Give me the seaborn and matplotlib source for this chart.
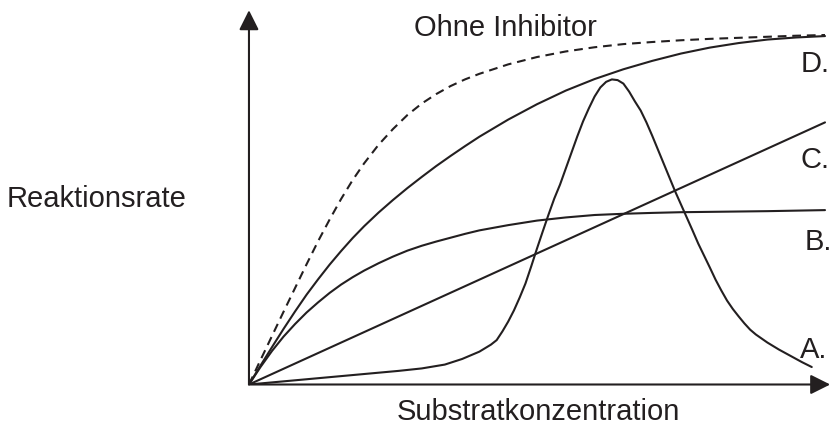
import matplotlib
matplotlib.use("Agg")
import matplotlib.pyplot as plt
import seaborn as sns

# substrate concentration (arbitrary units, 0..100)
x_grid = [0, 2, 4, 6, 8, 10, 12, 14, 16, 18, 20, 22.5, 25, 27.5, 30, 32.5, 35,
          37.5, 40, 45, 50, 55, 60, 65, 70, 75, 80, 85, 90, 95, 100]

# reaction rates (arbitrary units, 0..100)
ohne_inhibitor = [0, 7.0, 13.9, 20.8, 27.6, 34.4, 41.0, 47.2, 53.1, 58.5, 63.3,
                  68.6, 73.1, 77.1, 80.4, 83.1, 85.4, 87.3, 88.9, 91.6, 93.7,
                  95.3, 96.5, 97.4, 98.0, 98.5, 98.9, 99.2, 99.5, 99.8, 100.0]
kurve_d = [0, 5.4, 10.7, 15.9, 20.9, 25.7, 30.1, 34.3, 38.2, 41.9, 45.3,
           49.2, 52.8, 56.2, 59.4, 62.5, 65.4, 68.2, 70.9, 75.8, 80.2,
           84.1, 87.4, 90.2, 92.6, 94.7, 96.4, 97.7, 98.7, 99.3, 99.7]
kurve_b = [0, 5.0, 9.6, 13.7, 17.3, 20.6, 23.5, 26.2, 28.6, 30.7, 32.6,
           34.7, 36.6, 38.3, 39.7, 40.9, 42.0, 43.1, 44.1, 45.6, 46.9,
           47.8, 48.5, 48.85, 49.1, 49.3, 49.4, 49.5, 49.6, 49.75, 49.9]

x_c = [0, 100]
kurve_c = [0, 75.0]

x_a = [0, 10, 20, 26, 30, 34, 37, 40, 42, 43, 44, 45, 46, 47, 48, 49, 50,
       51, 52, 53, 54, 55, 56, 57, 58, 59, 60, 61, 62, 63, 64, 65, 66, 67,
       68, 69, 70, 71, 72, 73, 74, 75, 76, 77, 78, 79, 80, 81, 82, 83, 84,
       85, 86, 87, 88, 90, 92, 94, 96, 97.7]
kurve_a = [0, 1.5, 3.0, 3.9, 4.6, 5.7, 7.3, 9.4, 11.4, 12.7, 15.2, 18.0, 21.2,
           24.9, 28.9, 33.8, 38.9, 43.8, 48.6, 53.2, 57.2, 61.8, 66.4, 71.0,
           75.3, 79.0, 82.4, 85.0, 86.6, 87.3, 87.1, 86.1, 83.8, 81.0, 78.4,
           75.0, 71.2, 67.2, 63.2, 59.2, 55.2, 51.5, 47.8, 44.1, 40.3, 36.9,
           33.5, 30.0, 26.9, 24.0, 21.6, 19.5, 17.5, 15.7, 14.3, 12.0, 10.0,
           8.2, 6.4, 5.0]

kurven_labels = ["D.", "C.", "B.", "A."]
kurven_label_pos = [(95.7, 89.4), (95.7, 61.9), (96.5, 38.5), (95.7, 7.6)]

ink = "#231f20"

sns.set_theme(style="white")
plt.rcParams["font.family"] = ["Liberation Sans", "DejaVu Sans"]

fig = plt.figure(figsize=(8.31, 4.25), dpi=100)
ax = fig.add_axes([0.2996, 0.0953, 0.7015, 0.8815])

sns.lineplot(x=x_grid, y=ohne_inhibitor, ax=ax, color=ink, lw=1.5,
             linestyle=(0, (4.2, 2.8)))
sns.lineplot(x=x_grid, y=kurve_d, ax=ax, color=ink, lw=1.5)
sns.lineplot(x=x_c, y=kurve_c, ax=ax, color=ink, lw=1.5)
sns.lineplot(x=x_grid, y=kurve_b, ax=ax, color=ink, lw=1.5)
sns.lineplot(x=x_a, y=kurve_a, ax=ax, color=ink, lw=1.5)

ax.set_xlim(0, 101.2)
ax.set_ylim(0, 107.2)
for s in ax.spines.values():
    s.set_visible(False)
ax.set_xticks([])
ax.set_yticks([])
ax.patch.set_alpha(0)

# axes with arrow heads
arrow = dict(arrowstyle="-|>,head_length=0.6,head_width=0.3", mutation_scale=20,
             lw=1.5, color=ink, shrinkA=0, shrinkB=0)
ax.annotate("", xy=(100.9, 0), xytext=(0, 0), arrowprops=arrow, annotation_clip=False)
ax.annotate("", xy=(0, 107.1), xytext=(0, 0), arrowprops=arrow, annotation_clip=False)

fs = 21
ax.text(44.6, 99.7, "Ohne Inhibitor", ha="center", va="baseline", fontsize=fs, color=ink)
ax.text(50.3, -10.2, "Substratkonzentration", ha="center", va="baseline",
        fontsize=fs, color=ink, clip_on=False)
ax.text(-10.8, 50.8, "Reaktionsrate", ha="right", va="baseline",
        fontsize=fs, color=ink, clip_on=False)
for lab, (lx, ly) in zip(kurven_labels, kurven_label_pos):
    ax.text(lx, ly, lab, ha="left", va="baseline", fontsize=fs, color=ink, clip_on=False)

fig.savefig("out.png", dpi=100)
